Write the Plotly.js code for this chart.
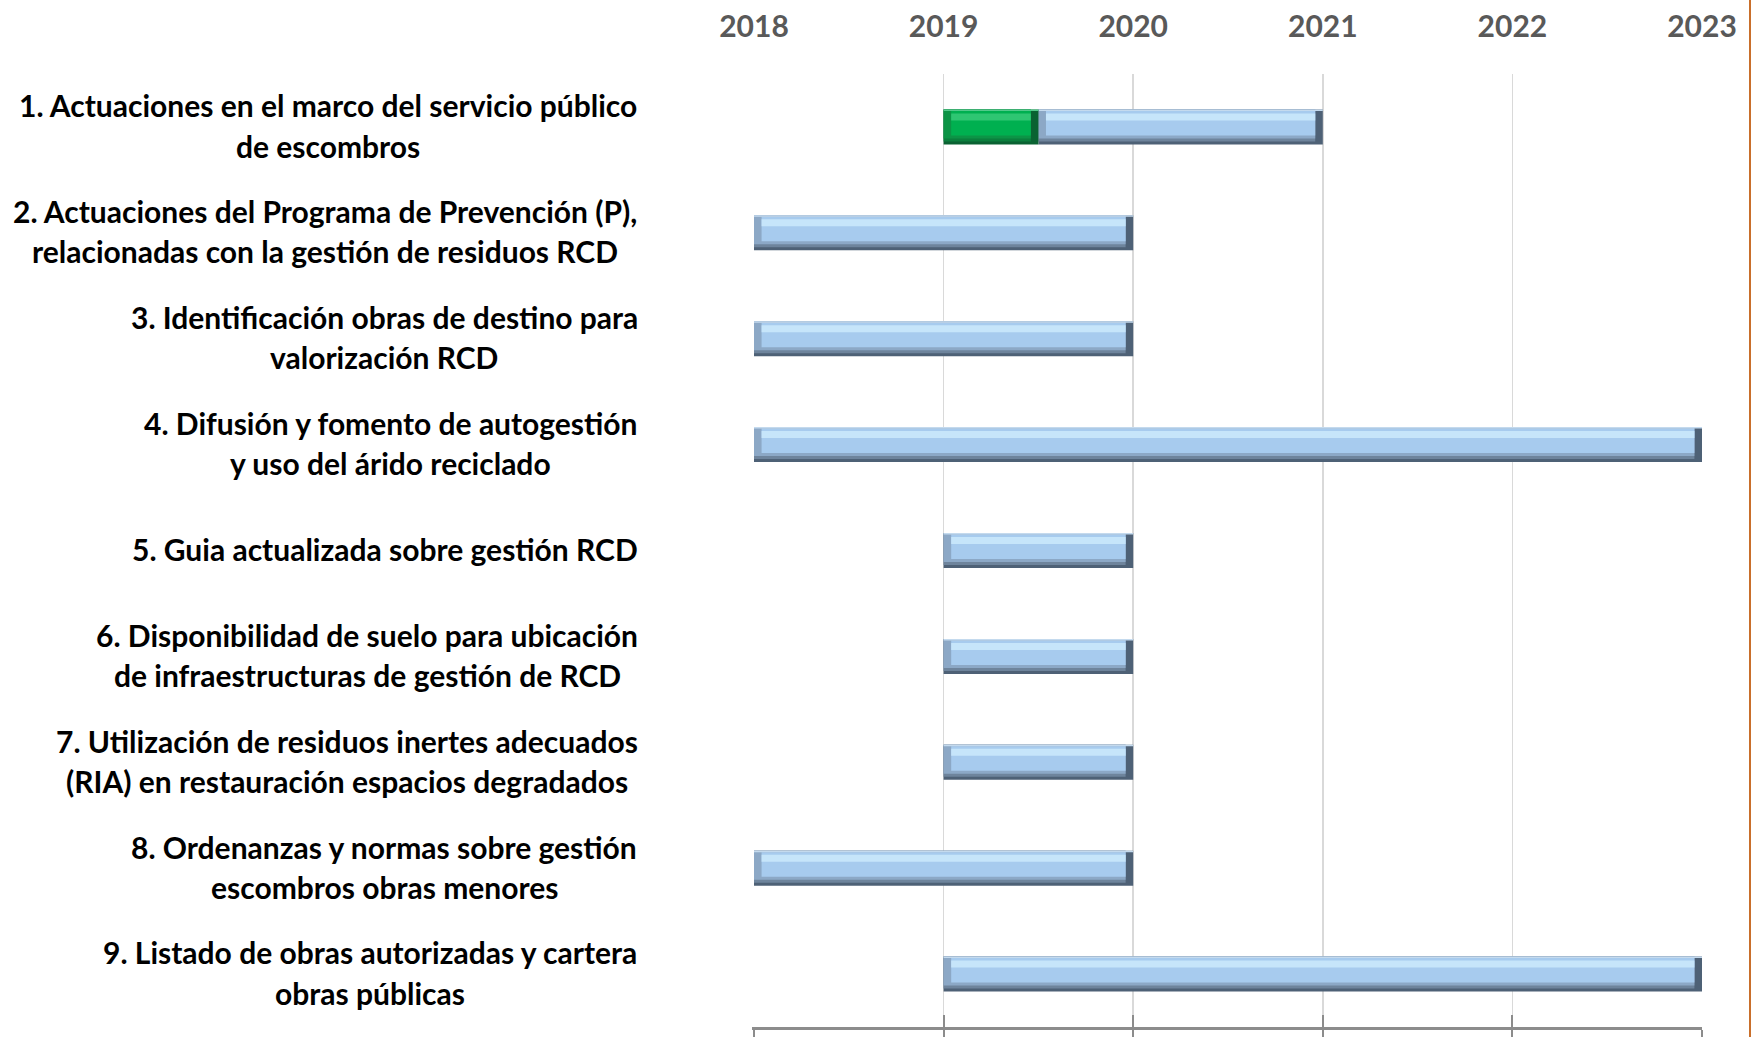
<!DOCTYPE html>
<html>
<head>
<meta charset="utf-8">
<script src="https://cdn.plot.ly/plotly-3.0.1.min.js"></script>
<style>
html,body{margin:0;padding:0;background:#ffffff;}
#chart{width:1755px;height:1037px;}
</style>
</head>
<body>
<div id="chart"></div>
<script>
// ---------- data ----------
const categories = [
  "1. Actuaciones en el marco del servicio público<br>de escombros",
  "2. Actuaciones del Programa de Prevención (P),<br>relacionadas con la gestión de residuos RCD",
  "3. Identificación obras de destino para<br>valorización RCD",
  "4. Difusión y fomento de autogestión<br>y uso del árido reciclado",
  "5. Guia actualizada sobre gestión RCD",
  "6. Disponibilidad de suelo para ubicación<br>de infraestructuras de gestión de RCD",
  "7. Utilización de residuos inertes adecuados<br>(RIA) en restauración espacios degradados",
  "8. Ordenanzas y normas sobre gestión<br>escombros obras menores",
  "9. Listado de obras autorizadas y cartera<br>obras públicas"
];
const startYear = [2019, 2018, 2018, 2018, 2019, 2019, 2019, 2018, 2019];
const endYear   = [2021, 2020, 2020, 2023, 2020, 2020, 2020, 2020, 2023];
const doneYears = [0.5, 0, 0, 0, 0, 0, 0, 0, 0];
const yearTicks = [2018, 2019, 2020, 2021, 2022, 2023];
const yearLabels = ["2018", "2019", "2020", "2021", "2022", "2023"];

// ---------- layout geometry (pixels) ----------
const W = 1755, H = 1037;
const M = {l: 754, r: 53, t: 74, b: 10};
const plotW = W - M.l - M.r;
const plotH = H - M.t - M.b;
const STEP = plotH / categories.length;   // px per category
const BAR = 35;                            // bar thickness px
const INS = 0.04;                          // bevel inset (years)
const LABEL_SIZE = 30;
const LABEL_FONT = "Lato";
const LINE_GAP = 40.3;
const LABEL_RIGHT = 638;

// segments: green = done, blue = remaining
const greenStart = startYear.slice();
const greenEnd = startYear.map((s, i) => s + doneYears[i]);
const blueStart = greenEnd.slice();
const blueEnd = endYear.slice();

function layer(s, e, rowTop, rowBot, color, insL, insR) {
  const base = [], len = [];
  for (let i = 0; i < categories.length; i++) {
    const L = e[i] - s[i];
    if (L <= 0) { base.push(null); len.push(null); continue; }
    base.push(s[i] + insL);
    len.push(Math.max(0, L - insL - insR));
  }
  return {
    type: 'bar', orientation: 'h', y: categories, x: len, base: base,
    width: (rowBot - rowTop) / STEP,
    offset: (rowTop - BAR / 2) / STEP,
    marker: {color: color, line: {width: 0}},
    hoverinfo: 'skip', showlegend: false
  };
}

function bevelBar(s, e, pal) {
  return [
    layer(s, e, 0, BAR, pal.dark, 0, 0),
    layer(s, e, 0, 32, pal.low, 0, INS),
    layer(s, e, 0, 29, pal.mid, 0, INS),
    layer(s, e, 1.5, 26, pal.body, INS, INS),
    layer(s, e, 4, 11, pal.hi, INS, INS),
    layer(s, e, 0, 1.5, pal.edge, 0, 0)
  ];
}

const bluePal = {dark: '#4E6176', low: '#6E849C', mid: '#8CA8C6', body: '#A7CBEE', hi: '#C6E5FA', edge: '#C4DAEE'};
const greenPal = {dark: '#0A6232', low: '#0B7F3D', mid: '#0C9446', body: '#00B050', hi: '#2FC672', edge: '#52C98A'};

// invisible helper traces so the extra tick axes are drawn
const axisHelpers = ['x2', 'x3'].map(ax => ({
  type: 'scatter', mode: 'markers', xaxis: ax, yaxis: 'y',
  x: yearTicks, y: yearTicks.map(() => categories[0]),
  marker: {opacity: 0, size: 1}, hoverinfo: 'skip', showlegend: false
}));

const traces = [].concat(
  bevelBar(blueStart, blueEnd, bluePal),
  bevelBar(greenStart, greenEnd, greenPal),
  axisHelpers
);

function build() {
  const ctx = document.createElement('canvas').getContext('2d');
  ctx.font = 'bold ' + LABEL_SIZE + 'px ' + LABEL_FONT;
  const annotations = [];
  categories.forEach((cat, ci) => {
    const lines = cat.split('<br>');
    const blockW = Math.max.apply(null, lines.map(t => ctx.measureText(t).width));
    const centerPx = LABEL_RIGHT - blockW / 2;
    lines.forEach((t, k) => {
      annotations.push({
        xref: 'paper', yref: 'y', x: (centerPx - M.l) / plotW, y: cat,
        xanchor: 'center', yanchor: 'middle', showarrow: false,
        yshift: ((lines.length - 1) / 2 - k) * LINE_GAP + 1.5,
        text: t,
        font: {family: LABEL_FONT, size: LABEL_SIZE, color: '#000000', weight: 700}
      });
    });
  });

  const axisGray = '#8C8C8C';
  const layout = {
    width: W, height: H,
    margin: M,
    paper_bgcolor: '#ffffff', plot_bgcolor: '#ffffff',
    barmode: 'overlay',
    showlegend: false,
    xaxis: {
      range: [2018, 2023], tickvals: yearTicks, showticklabels: false,
      ticks: 'outside', ticklen: 12, tickwidth: 2, tickcolor: axisGray,
      showline: true, linecolor: axisGray, linewidth: 2.5,
      showgrid: true, gridcolor: '#D9D9D9', gridwidth: 1.5,
      zeroline: false, fixedrange: true, automargin: false
    },
    xaxis2: {
      overlaying: 'x', anchor: 'y', side: 'bottom',
      range: [2018, 2023], tickvals: yearTicks, showticklabels: false,
      ticks: 'inside', ticklen: 12, tickwidth: 2, tickcolor: axisGray,
      showline: false, showgrid: false, zeroline: false, automargin: false,
      fixedrange: true
    },
    xaxis3: {
      overlaying: 'x', anchor: 'y', side: 'top',
      range: [2018, 2023], tickvals: yearTicks, ticktext: yearLabels,
      ticks: 'outside', ticklen: 24, tickcolor: 'rgba(0,0,0,0)',
      tickfont: {family: LABEL_FONT, size: 30, color: '#595959', weight: 700},
      showline: false, showgrid: false, zeroline: false, automargin: false,
      fixedrange: true
    },
    yaxis: {
      type: 'category', categoryorder: 'array', categoryarray: categories,
      range: [categories.length - 0.5, -0.5],
      showticklabels: false, ticks: '', showgrid: false, zeroline: false,
      showline: true, linecolor: '#ffffff', linewidth: 2,
      fixedrange: true, automargin: false
    },
    annotations: annotations,
    shapes: [{
      type: 'line', xref: 'paper', yref: 'paper', layer: 'above',
      x0: (1750 - M.l) / plotW, x1: (1750 - M.l) / plotW, y0: -0.2, y1: 1.2,
      line: {color: '#C96F2B', width: 2}
    }]
  };
  Plotly.newPlot('chart', traces, layout, {staticPlot: true, displayModeBar: false});
}

if (document.fonts && document.fonts.load) {
  document.fonts.load('bold ' + LABEL_SIZE + 'px ' + LABEL_FONT).then(build, build);
} else {
  build();
}
</script>
</body>
</html>
